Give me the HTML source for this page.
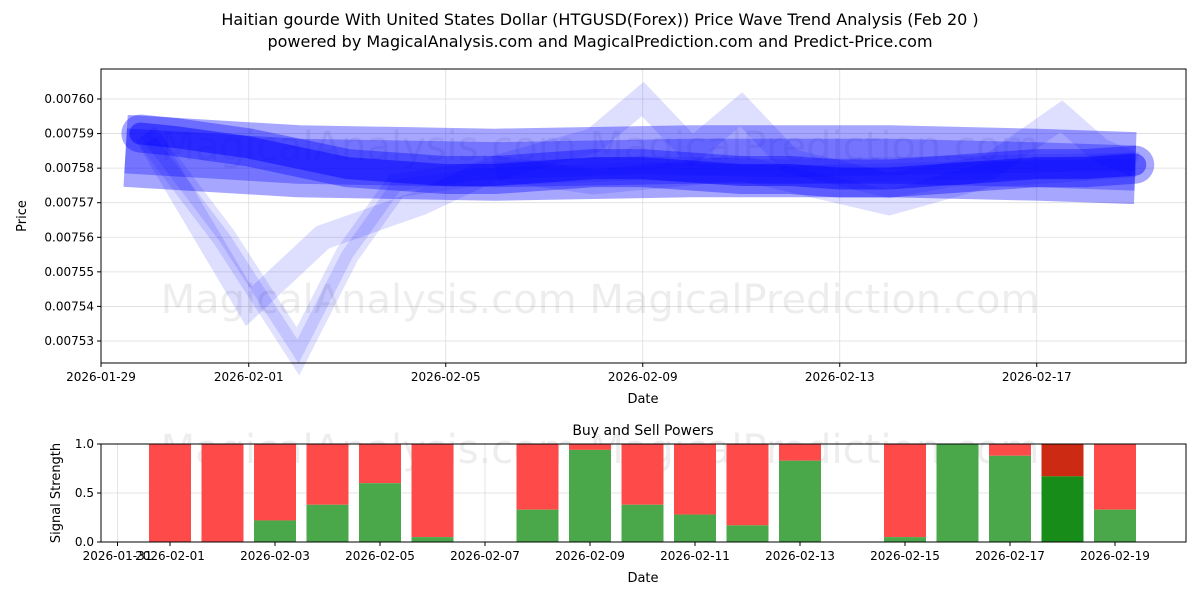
<!DOCTYPE html>
<html><head><meta charset="utf-8">
<style>
body{margin:0;background:#fff;font-family:"Liberation Sans","DejaVu Sans",sans-serif}
svg text{font-family:"DejaVu Sans","Liberation Sans",sans-serif}
</style></head>
<body>
<svg width="1200" height="600" viewBox="0 0 1200 600" xmlns="http://www.w3.org/2000/svg">
<rect width="1200" height="600" fill="#fff"/>
<text x="600" y="25" text-anchor="middle" font-size="16">Haitian gourde With United States Dollar (HTGUSD(Forex)) Price Wave Trend Analysis (Feb 20 )</text>
<text x="600" y="47" text-anchor="middle" font-size="16">powered by MagicalAnalysis.com and MagicalPrediction.com and Predict-Price.com</text>
<g id="topg"></g>
<g id="botg"></g>
</svg>
<script>
const ns="http://www.w3.org/2000/svg";
// ---- price chart data (days since 2026-01-29) ----
const mainDays=[0.8,1.5,3,4,5,6,7,8,9,10,11,12,13,14,15,16,17,18,19,20,21];
const mainVals=[0.00759,0.007589,0.007586,0.007583,0.00758,0.007579,0.007578,0.007578,0.007579,0.00758,0.00758,0.007579,0.007578,0.007578,0.007577,0.007577,0.007578,0.007579,0.00758,0.00758,0.007581];
const bandDays=[0.5,4,8,12,16,19,21];
const bandVals=[0.007585,0.007582,0.007581,0.007582,0.007582,0.007581,0.00758];
const dipDays=[0.9,2.5,4,5,6,7.5,9,11,14,17,21];
const dipVals=[0.00759,0.00756,0.007527,0.007555,0.007575,0.007578,0.007579,0.00758,0.007579,0.00758,0.007581];
const dip2Days=[1,3,4.5,6.5,8,10,13,16,18,21];
const dip2Vals=[0.007588,0.00754,0.00756,0.00757,0.00758,0.007576,0.00758,0.00757,0.007578,0.007581];
const spikeDays=[8,10,11,12,13,14,16,18,19.5,20.3,21];
const spikeVals=[0.00758,0.007588,0.0076,0.007585,0.007597,0.007582,0.007575,0.00758,0.007595,0.007585,0.007581];
const yTicks=[0.00753,0.00754,0.00755,0.00756,0.00757,0.00758,0.00759,0.0076];
const xTickDays=[0,3,7,11,15,19];
const xTickLabels=["2026-01-29","2026-02-01","2026-02-05","2026-02-09","2026-02-13","2026-02-17"];
// ---- signal chart data (days since 2026-01-31) ----
const barDays=[1,2,3,4,5,6,8,9,10,11,12,13,15,16,17,18,19];
const buyVals=[0,0,0.22,0.38,0.6,0.05,0.33,0.94,0.38,0.28,0.17,0.83,0.05,1.0,0.88,0.67,0.33];
const bTickDays=[0,1,3,5,7,9,11,13,15,17,19];
const bTickLabels=["2026-01-31","2026-02-01","2026-02-03","2026-02-05","2026-02-07","2026-02-09","2026-02-11","2026-02-13","2026-02-15","2026-02-17","2026-02-19"];
const sTicks=[0,0.5,1];
const sTickLabels=["0.0","0.5","1.0"];

function el(t,a,p){const e=document.createElementNS(ns,t);for(const k in a)e.setAttribute(k,a[k]);p.appendChild(e);return e;}
const topG=document.getElementById('topg'),botG=document.getElementById('botg');
const L=101,R=1186,T=69,B=363;
const px=d=>L+d*49.25;
const py=v=>99+(0.0076-v)/0.00001*34.57;
el('rect',{x:L,y:T,width:R-L,height:B-T,fill:'#fff'},topG);
yTicks.forEach(v=>{const y=py(v);
 el('line',{x1:L,x2:R,y1:y,y2:y,stroke:'#ddd','stroke-width':0.8},topG);
 el('line',{x1:L-4,x2:L,y1:y,y2:y,stroke:'#000'},topG);
 const t=el('text',{x:L-7,y:y+4,'text-anchor':'end','font-size':12},topG);t.textContent=v.toFixed(5);
 
 });
xTickDays.forEach((d,i)=>{const x=px(d);
 el('line',{x1:x,x2:x,y1:T,y2:B,stroke:'#ddd','stroke-width':0.8},topG);
 el('line',{x1:x,x2:x,y1:B,y2:B+4,stroke:'#000'},topG);
 const t=el('text',{x:x,y:B+18,'text-anchor':'middle','font-size':12},topG);t.textContent=xTickLabels[i];
 
 });
const wm=el('text',{x:600,y:313,'text-anchor':'middle','font-size':40,fill:'#000','fill-opacity':0.07},topG);wm.textContent="MagicalAnalysis.com    MagicalPrediction.com";


const wm2=el('text',{x:600,y:160,'text-anchor':'middle','font-size':40,fill:'#000','fill-opacity':0.07},topG);wm2.textContent="MagicalAnalysis.com    MagicalPrediction.com";


function wave(days,vals,w,op,name,cap){
 const pts=days.map((d,i)=>px(d)+','+py(vals[i])).join(' ');
 const p=el('polyline',{points:pts,fill:'none',stroke:'#0000ff','stroke-width':w,'stroke-opacity':op,'stroke-linejoin':'miter','stroke-linecap':cap||'butt'},topG);
 
 
}
wave(bandDays,bandVals,72,0.35,'wave-band');
wave(dipDays,dipVals,24,0.12,'wave-dip');
wave(dipDays,dipVals,12,0.12,'wave-dip-inner');
wave(dip2Days,dip2Vals,25,0.13,'wave-dip-2');
wave(spikeDays,spikeVals,25,0.13,'wave-spike');
wave(bandDays,bandVals,45,0.3,'wave-band-inner');
wave(mainDays,mainVals,38,0.35,'wave-main-outer','round');
wave(mainDays,mainVals,22,0.45,'wave-main','round');
el('rect',{x:L,y:T,width:R-L,height:B-T,fill:'none',stroke:'#000','stroke-width':1},topG);
let t=el('text',{x:643,y:403,'text-anchor':'middle','font-size':13},topG);t.textContent='Date';
t=el('text',{x:26,y:216,'text-anchor':'middle','font-size':13,transform:'rotate(-90 26 216)'},topG);t.textContent='Price';

// bottom
const BL=101,BR=1186,BT=444,BB=542;
const bx=d=>117.5+d*52.5;
const by=v=>BB-v*(BB-BT);
const wmb=el('text',{x:600,y:463,'text-anchor':'middle','font-size':40,fill:'#000','fill-opacity':0.07},botG);wmb.textContent="MagicalAnalysis.com    MagicalPrediction.com";


sTicks.forEach((v,i)=>{const y=by(v);
 el('line',{x1:BL,x2:BR,y1:y,y2:y,stroke:'#ddd','stroke-width':0.8},botG);
 el('line',{x1:BL-4,x2:BL,y1:y,y2:y,stroke:'#000'},botG);
 const tt=el('text',{x:BL-7,y:y+4,'text-anchor':'end','font-size':12},botG);tt.textContent=sTickLabels[i];});
bTickDays.forEach((d,i)=>{const x=bx(d);
 el('line',{x1:x,x2:x,y1:BT,y2:BB,stroke:'#ddd','stroke-width':0.8},botG);
 el('line',{x1:x,x2:x,y1:BB,y2:BB+4,stroke:'#000'},botG);
 const tt=el('text',{x:x,y:BB+18,'text-anchor':'middle','font-size':12},botG);tt.textContent=bTickLabels[i];});
barDays.forEach((d,i)=>{const x=bx(d)-21,v=buyVals[i];const dark=(d===18);
 const s=el('rect',{x:x,y:BT,width:42,height:by(v)-BT,fill:dark?'#cc2a12':'#ff4a4a'},botG);
 
 
 const g=el('rect',{x:x,y:by(v),width:42,height:BB-by(v),fill:dark?'#188c18':'#4aa84a'},botG);
 
 });
el('rect',{x:BL,y:BT,width:BR-BL,height:BB-BT,fill:'none',stroke:'#000','stroke-width':1},botG);
t=el('text',{x:643,y:435,'text-anchor':'middle','font-size':14},botG);t.textContent='Buy and Sell Powers';
t=el('text',{x:643,y:582,'text-anchor':'middle','font-size':13},botG);t.textContent='Date';
t=el('text',{x:60,y:493,'text-anchor':'middle','font-size':13,transform:'rotate(-90 60 493)'},botG);t.textContent='Signal Strength';
</script>
</body></html>
